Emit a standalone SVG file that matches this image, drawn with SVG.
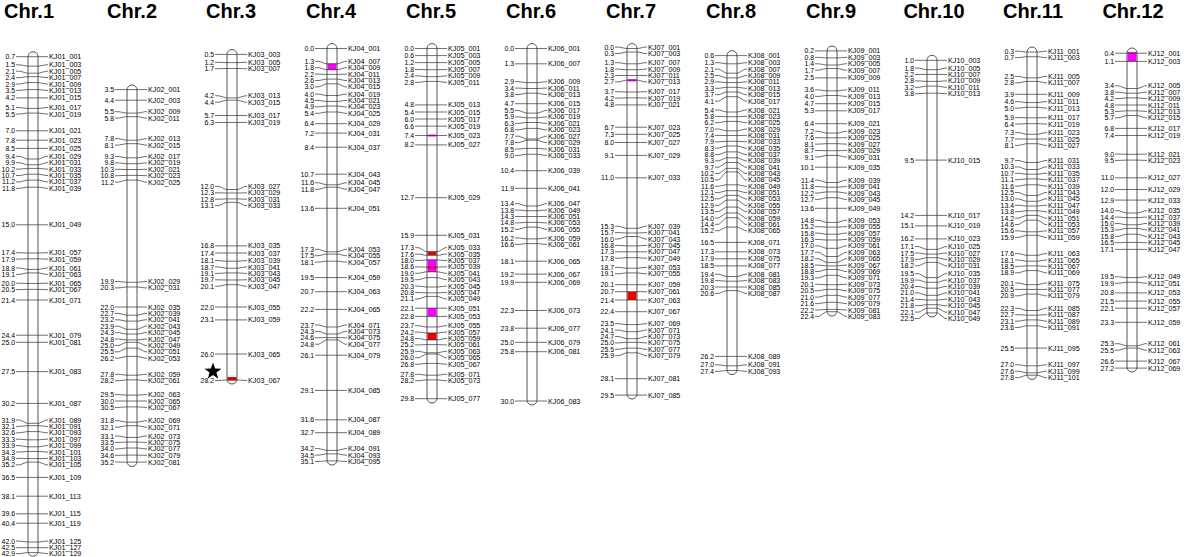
<svg xmlns="http://www.w3.org/2000/svg" width="1188" height="557" viewBox="0 0 1188 557">
<style>
.t{font:bold 20px "Liberation Sans",Arial,sans-serif;text-anchor:middle;fill:#000}
.n{font:6.9px "Liberation Sans",Arial,sans-serif;text-anchor:end;dominant-baseline:central;fill:#000}
.m{font:7.2px "Liberation Sans",Arial,sans-serif;dominant-baseline:central;fill:#000}
.body{fill:#fff;stroke:#555;stroke-width:1}
.cn path{fill:none;stroke:#333;stroke-width:0.7}
.mg{fill:#f0f}
.rd{fill:#e00}
</style>
<rect width="1188" height="557" fill="#fff"/>
<g id="titles">
<text class="t" x="29" y="18">Chr.1</text>
<text class="t" x="132" y="18">Chr.2</text>
<text class="t" x="231" y="18">Chr.3</text>
<text class="t" x="331" y="18">Chr.4</text>
<text class="t" x="431" y="18">Chr.5</text>
<text class="t" x="531" y="18">Chr.6</text>
<text class="t" x="631" y="18">Chr.7</text>
<text class="t" x="731" y="18">Chr.8</text>
<text class="t" x="831" y="18">Chr.9</text>
<text class="t" x="934" y="18">Chr.10</text>
<text class="t" x="1033" y="18">Chr.11</text>
<text class="t" x="1133" y="18">Chr.12</text>
</g>

<g id="chr1" transform="translate(33 0)">
<rect class="body" x="-5" y="51.7" width="10" height="504.5" rx="5"/>
<text class="n" x="-18" y="56.7">0.7</text><text class="m" x="16" y="56.7">KJ01_001</text>
<text class="n" x="-18" y="64.8">1.5</text><text class="m" x="16" y="64.8">KJ01_003</text>
<text class="n" x="-18" y="71.2">2.1</text><text class="m" x="16" y="71.2">KJ01_005</text>
<text class="n" x="-18" y="77.6">2.4</text><text class="m" x="16" y="77.6">KJ01_007</text>
<text class="n" x="-18" y="84">2.9</text><text class="m" x="16" y="84">KJ01_009</text>
<text class="n" x="-18" y="90.4">3.5</text><text class="m" x="16" y="90.4">KJ01_013</text>
<text class="n" x="-18" y="97.9">4.2</text><text class="m" x="16" y="97.9">KJ01_015</text>
<text class="n" x="-18" y="107.6">5.1</text><text class="m" x="16" y="107.6">KJ01_017</text>
<text class="n" x="-18" y="114">5.5</text><text class="m" x="16" y="114">KJ01_019</text>
<text class="n" x="-18" y="130.8">7.0</text><text class="m" x="16" y="130.8">KJ01_021</text>
<text class="n" x="-18" y="140.2">7.8</text><text class="m" x="16" y="140.2">KJ01_023</text>
<text class="n" x="-18" y="148.4">8.5</text><text class="m" x="16" y="148.4">KJ01_025</text>
<text class="n" x="-18" y="156.3">9.4</text><text class="m" x="16" y="156.3">KJ01_029</text>
<text class="n" x="-18" y="162.7">9.9</text><text class="m" x="16" y="162.7">KJ01_031</text>
<text class="n" x="-18" y="169.1">10.2</text><text class="m" x="16" y="169.1">KJ01_033</text>
<text class="n" x="-18" y="175.5">10.7</text><text class="m" x="16" y="175.5">KJ01_035</text>
<text class="n" x="-18" y="181.9">11.2</text><text class="m" x="16" y="181.9">KJ01_037</text>
<text class="n" x="-18" y="188.3">11.8</text><text class="m" x="16" y="188.3">KJ01_039</text>
<text class="n" x="-18" y="224.8">15.0</text><text class="m" x="16" y="224.8">KJ01_049</text>
<text class="n" x="-18" y="252.7">17.4</text><text class="m" x="16" y="252.7">KJ01_057</text>
<text class="n" x="-18" y="259.1">17.9</text><text class="m" x="16" y="259.1">KJ01_059</text>
<text class="n" x="-18" y="268">18.8</text><text class="m" x="16" y="268">KJ01_061</text>
<text class="n" x="-18" y="274.4">19.1</text><text class="m" x="16" y="274.4">KJ01_063</text>
<text class="n" x="-18" y="283.2">20.0</text><text class="m" x="16" y="283.2">KJ01_065</text>
<text class="n" x="-18" y="289.6">20.5</text><text class="m" x="16" y="289.6">KJ01_067</text>
<text class="n" x="-18" y="300">21.4</text><text class="m" x="16" y="300">KJ01_071</text>
<text class="n" x="-18" y="335.2">24.4</text><text class="m" x="16" y="335.2">KJ01_079</text>
<text class="n" x="-18" y="342.3">25.0</text><text class="m" x="16" y="342.3">KJ01_081</text>
<text class="n" x="-18" y="371.6">27.5</text><text class="m" x="16" y="371.6">KJ01_083</text>
<text class="n" x="-18" y="403.4">30.2</text><text class="m" x="16" y="403.4">KJ01_087</text>
<text class="n" x="-18" y="420">31.9</text><text class="m" x="16" y="420">KJ01_089</text>
<text class="n" x="-18" y="426.4">32.1</text><text class="m" x="16" y="426.4">KJ01_091</text>
<text class="n" x="-18" y="432.8">32.6</text><text class="m" x="16" y="432.8">KJ01_093</text>
<text class="n" x="-18" y="439.2">33.3</text><text class="m" x="16" y="439.2">KJ01_097</text>
<text class="n" x="-18" y="445.6">33.9</text><text class="m" x="16" y="445.6">KJ01_099</text>
<text class="n" x="-18" y="452">34.3</text><text class="m" x="16" y="452">KJ01_101</text>
<text class="n" x="-18" y="458.4">34.9</text><text class="m" x="16" y="458.4">KJ01_103</text>
<text class="n" x="-18" y="464.8">35.2</text><text class="m" x="16" y="464.8">KJ01_105</text>
<text class="n" x="-18" y="477.4">36.5</text><text class="m" x="16" y="477.4">KJ01_109</text>
<text class="n" x="-18" y="496.2">38.1</text><text class="m" x="16" y="496.2">KJ01_113</text>
<text class="n" x="-18" y="513.8">39.6</text><text class="m" x="16" y="513.8">KJ01_115</text>
<text class="n" x="-18" y="523.2">40.4</text><text class="m" x="16" y="523.2">KJ01_119</text>
<text class="n" x="-18" y="541.1">42.0</text><text class="m" x="16" y="541.1">KJ01_125</text>
<text class="n" x="-18" y="547.7">42.5</text><text class="m" x="16" y="547.7">KJ01_127</text>
<text class="n" x="-18" y="553.6">42.9</text><text class="m" x="16" y="553.6">KJ01_129</text>
</g>

<g id="chr2" transform="translate(132 0)">
<rect class="body" x="-5" y="85" width="10" height="381.5" rx="5"/>
<text class="n" x="-18" y="89.6">3.5</text><text class="m" x="16" y="89.6">KJ02_001</text>
<text class="n" x="-18" y="100.2">4.4</text><text class="m" x="16" y="100.2">KJ02_003</text>
<text class="n" x="-18" y="111.7">5.5</text><text class="m" x="16" y="111.7">KJ02_009</text>
<text class="n" x="-18" y="118.1">5.8</text><text class="m" x="16" y="118.1">KJ02_011</text>
<text class="n" x="-18" y="138.7">7.8</text><text class="m" x="16" y="138.7">KJ02_013</text>
<text class="n" x="-18" y="145.1">8.1</text><text class="m" x="16" y="145.1">KJ02_015</text>
<text class="n" x="-18" y="156.5">9.3</text><text class="m" x="16" y="156.5">KJ02_017</text>
<text class="n" x="-18" y="162.9">9.8</text><text class="m" x="16" y="162.9">KJ02_019</text>
<text class="n" x="-18" y="169.3">10.3</text><text class="m" x="16" y="169.3">KJ02_021</text>
<text class="n" x="-18" y="175.7">10.8</text><text class="m" x="16" y="175.7">KJ02_023</text>
<text class="n" x="-18" y="182.1">11.2</text><text class="m" x="16" y="182.1">KJ02_025</text>
<text class="n" x="-18" y="281.5">19.9</text><text class="m" x="16" y="281.5">KJ02_029</text>
<text class="n" x="-18" y="287.9">20.3</text><text class="m" x="16" y="287.9">KJ02_031</text>
<text class="n" x="-18" y="307">22.0</text><text class="m" x="16" y="307">KJ02_035</text>
<text class="n" x="-18" y="313.4">22.7</text><text class="m" x="16" y="313.4">KJ02_039</text>
<text class="n" x="-18" y="319.8">23.2</text><text class="m" x="16" y="319.8">KJ02_041</text>
<text class="n" x="-18" y="326.2">23.9</text><text class="m" x="16" y="326.2">KJ02_043</text>
<text class="n" x="-18" y="332.6">24.3</text><text class="m" x="16" y="332.6">KJ02_045</text>
<text class="n" x="-18" y="339">24.8</text><text class="m" x="16" y="339">KJ02_047</text>
<text class="n" x="-18" y="345.4">25.0</text><text class="m" x="16" y="345.4">KJ02_049</text>
<text class="n" x="-18" y="351.8">25.5</text><text class="m" x="16" y="351.8">KJ02_051</text>
<text class="n" x="-18" y="358.2">26.2</text><text class="m" x="16" y="358.2">KJ02_053</text>
<text class="n" x="-18" y="374.3">27.8</text><text class="m" x="16" y="374.3">KJ02_059</text>
<text class="n" x="-18" y="380.7">28.2</text><text class="m" x="16" y="380.7">KJ02_061</text>
<text class="n" x="-18" y="394.6">29.5</text><text class="m" x="16" y="394.6">KJ02_063</text>
<text class="n" x="-18" y="401">30.0</text><text class="m" x="16" y="401">KJ02_065</text>
<text class="n" x="-18" y="407.4">30.5</text><text class="m" x="16" y="407.4">KJ02_067</text>
<text class="n" x="-18" y="420.7">31.8</text><text class="m" x="16" y="420.7">KJ02_069</text>
<text class="n" x="-18" y="427.1">32.1</text><text class="m" x="16" y="427.1">KJ02_071</text>
<text class="n" x="-18" y="436">33.1</text><text class="m" x="16" y="436">KJ02_073</text>
<text class="n" x="-18" y="442.4">33.5</text><text class="m" x="16" y="442.4">KJ02_075</text>
<text class="n" x="-18" y="448.9">34.0</text><text class="m" x="16" y="448.9">KJ02_077</text>
<text class="n" x="-18" y="455.3">34.6</text><text class="m" x="16" y="455.3">KJ02_079</text>
<text class="n" x="-18" y="462.1">35.2</text><text class="m" x="16" y="462.1">KJ02_081</text>
</g>

<g id="chr3" transform="translate(232 0)">
<rect class="body" x="-5" y="49.5" width="10" height="334.5" rx="5"/>
<rect class="rd" x="-4.5" y="377" width="9" height="3.5"/>
<polygon points="-19,362.5 -16.88,368.59 -10.44,368.72 -15.58,372.61 -13.71,378.78 -19,375.1 -24.29,378.78 -22.42,372.61 -27.56,368.72 -21.12,368.59" fill="#000"/>
<text class="n" x="-18" y="54.4">0.5</text><text class="m" x="16" y="54.4">KJ03_003</text>
<text class="n" x="-18" y="62.3">1.2</text><text class="m" x="16" y="62.3">KJ03_005</text>
<text class="n" x="-18" y="68.7">1.7</text><text class="m" x="16" y="68.7">KJ03_007</text>
<text class="n" x="-18" y="95.8">4.2</text><text class="m" x="16" y="95.8">KJ03_013</text>
<text class="n" x="-18" y="102.2">4.4</text><text class="m" x="16" y="102.2">KJ03_015</text>
<text class="n" x="-18" y="115.5">5.7</text><text class="m" x="16" y="115.5">KJ03_017</text>
<text class="n" x="-18" y="122.5">6.3</text><text class="m" x="16" y="122.5">KJ03_019</text>
<text class="n" x="-18" y="186.4">12.0</text><text class="m" x="16" y="186.4">KJ03_027</text>
<text class="n" x="-18" y="192.8">12.3</text><text class="m" x="16" y="192.8">KJ03_029</text>
<text class="n" x="-18" y="199.2">12.8</text><text class="m" x="16" y="199.2">KJ03_031</text>
<text class="n" x="-18" y="205.6">13.1</text><text class="m" x="16" y="205.6">KJ03_033</text>
<text class="n" x="-18" y="245.9">16.8</text><text class="m" x="16" y="245.9">KJ03_035</text>
<text class="n" x="-18" y="253">17.4</text><text class="m" x="16" y="253">KJ03_037</text>
<text class="n" x="-18" y="260.6">18.1</text><text class="m" x="16" y="260.6">KJ03_039</text>
<text class="n" x="-18" y="267">18.7</text><text class="m" x="16" y="267">KJ03_041</text>
<text class="n" x="-18" y="273.4">19.1</text><text class="m" x="16" y="273.4">KJ03_043</text>
<text class="n" x="-18" y="279.8">19.7</text><text class="m" x="16" y="279.8">KJ03_045</text>
<text class="n" x="-18" y="286.2">20.1</text><text class="m" x="16" y="286.2">KJ03_047</text>
<text class="n" x="-18" y="307">22.0</text><text class="m" x="16" y="307">KJ03_055</text>
<text class="n" x="-18" y="319.9">23.1</text><text class="m" x="16" y="319.9">KJ03_059</text>
<text class="n" x="-18" y="354">26.0</text><text class="m" x="16" y="354">KJ03_065</text>
<text class="n" x="-18" y="380.5">28.2</text><text class="m" x="16" y="380.5">KJ03_067</text>
</g>

<g id="chr4" transform="translate(332 0)">
<rect class="body" x="-5" y="43.5" width="10" height="421.5" rx="5"/>
<rect class="mg" x="-4.5" y="63.5" width="9" height="6.5"/>
<text class="n" x="-18" y="48.5">0.0</text><text class="m" x="16" y="48.5">KJ04_001</text>
<text class="n" x="-18" y="61.3">1.3</text><text class="m" x="16" y="61.3">KJ04_007</text>
<text class="n" x="-18" y="67.7">1.8</text><text class="m" x="16" y="67.7">KJ04_009</text>
<text class="n" x="-18" y="74.1">2.2</text><text class="m" x="16" y="74.1">KJ04_011</text>
<text class="n" x="-18" y="80.5">2.6</text><text class="m" x="16" y="80.5">KJ04_013</text>
<text class="n" x="-18" y="86.9">3.0</text><text class="m" x="16" y="86.9">KJ04_015</text>
<text class="n" x="-18" y="94.1">4.0</text><text class="m" x="16" y="94.1">KJ04_019</text>
<text class="n" x="-18" y="100.5">4.5</text><text class="m" x="16" y="100.5">KJ04_021</text>
<text class="n" x="-18" y="106.9">4.9</text><text class="m" x="16" y="106.9">KJ04_023</text>
<text class="n" x="-18" y="113.3">5.4</text><text class="m" x="16" y="113.3">KJ04_025</text>
<text class="n" x="-18" y="123.7">6.4</text><text class="m" x="16" y="123.7">KJ04_029</text>
<text class="n" x="-18" y="133.1">7.2</text><text class="m" x="16" y="133.1">KJ04_031</text>
<text class="n" x="-18" y="147.2">8.4</text><text class="m" x="16" y="147.2">KJ04_037</text>
<text class="n" x="-18" y="174.2">10.7</text><text class="m" x="16" y="174.2">KJ04_043</text>
<text class="n" x="-18" y="182.8">11.6</text><text class="m" x="16" y="182.8">KJ04_045</text>
<text class="n" x="-18" y="189.2">11.8</text><text class="m" x="16" y="189.2">KJ04_047</text>
<text class="n" x="-18" y="208.3">13.6</text><text class="m" x="16" y="208.3">KJ04_051</text>
<text class="n" x="-18" y="249.3">17.3</text><text class="m" x="16" y="249.3">KJ04_053</text>
<text class="n" x="-18" y="255.7">17.5</text><text class="m" x="16" y="255.7">KJ04_055</text>
<text class="n" x="-18" y="262.1">18.1</text><text class="m" x="16" y="262.1">KJ04_057</text>
<text class="n" x="-18" y="277.6">19.5</text><text class="m" x="16" y="277.6">KJ04_059</text>
<text class="n" x="-18" y="291.7">20.7</text><text class="m" x="16" y="291.7">KJ04_063</text>
<text class="n" x="-18" y="309.4">22.2</text><text class="m" x="16" y="309.4">KJ04_065</text>
<text class="n" x="-18" y="325">23.7</text><text class="m" x="16" y="325">KJ04_071</text>
<text class="n" x="-18" y="331.4">24.3</text><text class="m" x="16" y="331.4">KJ04_073</text>
<text class="n" x="-18" y="337.8">24.6</text><text class="m" x="16" y="337.8">KJ04_075</text>
<text class="n" x="-18" y="344.2">24.8</text><text class="m" x="16" y="344.2">KJ04_077</text>
<text class="n" x="-18" y="355.2">26.1</text><text class="m" x="16" y="355.2">KJ04_079</text>
<text class="n" x="-18" y="390.4">29.1</text><text class="m" x="16" y="390.4">KJ04_085</text>
<text class="n" x="-18" y="419.8">31.6</text><text class="m" x="16" y="419.8">KJ04_087</text>
<text class="n" x="-18" y="432.7">32.7</text><text class="m" x="16" y="432.7">KJ04_089</text>
<text class="n" x="-18" y="448.6">34.2</text><text class="m" x="16" y="448.6">KJ04_091</text>
<text class="n" x="-18" y="455.1">34.5</text><text class="m" x="16" y="455.1">KJ04_093</text>
<text class="n" x="-18" y="461.5">35.1</text><text class="m" x="16" y="461.5">KJ04_095</text>
</g>

<g id="chr5" transform="translate(432 0)">
<rect class="body" x="-5" y="43.5" width="10" height="359.5" rx="5"/>
<rect class="mg" x="-4.5" y="134.5" width="9" height="2"/>
<rect class="rd" x="-4.5" y="251.5" width="9" height="3.8"/>
<rect class="mg" x="-4.5" y="259.5" width="9" height="12.5"/>
<rect class="rd" x="-4.5" y="266.5" width="9" height="2"/>
<rect class="mg" x="-4.5" y="308" width="9" height="8.5"/>
<rect class="rd" x="-4.5" y="333" width="9" height="7"/>
<text class="n" x="-18" y="48.5">0.0</text><text class="m" x="16" y="48.5">KJ05_001</text>
<text class="n" x="-18" y="55.6">0.6</text><text class="m" x="16" y="55.6">KJ05_003</text>
<text class="n" x="-18" y="62.6">1.2</text><text class="m" x="16" y="62.6">KJ05_005</text>
<text class="n" x="-18" y="69.5">1.8</text><text class="m" x="16" y="69.5">KJ05_007</text>
<text class="n" x="-18" y="75.9">2.4</text><text class="m" x="16" y="75.9">KJ05_009</text>
<text class="n" x="-18" y="82.3">2.8</text><text class="m" x="16" y="82.3">KJ05_011</text>
<text class="n" x="-18" y="104.9">4.8</text><text class="m" x="16" y="104.9">KJ05_013</text>
<text class="n" x="-18" y="112">5.4</text><text class="m" x="16" y="112">KJ05_015</text>
<text class="n" x="-18" y="119">6.0</text><text class="m" x="16" y="119">KJ05_017</text>
<text class="n" x="-18" y="126.1">6.6</text><text class="m" x="16" y="126.1">KJ05_019</text>
<text class="n" x="-18" y="135.5">7.4</text><text class="m" x="16" y="135.5">KJ05_023</text>
<text class="n" x="-18" y="144.9">8.2</text><text class="m" x="16" y="144.9">KJ05_027</text>
<text class="n" x="-18" y="197.7">12.7</text><text class="m" x="16" y="197.7">KJ05_029</text>
<text class="n" x="-18" y="235.3">15.9</text><text class="m" x="16" y="235.3">KJ05_031</text>
<text class="n" x="-18" y="247.7">17.3</text><text class="m" x="16" y="247.7">KJ05_033</text>
<text class="n" x="-18" y="254.1">17.6</text><text class="m" x="16" y="254.1">KJ05_035</text>
<text class="n" x="-18" y="260.5">18.0</text><text class="m" x="16" y="260.5">KJ05_037</text>
<text class="n" x="-18" y="266.9">18.6</text><text class="m" x="16" y="266.9">KJ05_039</text>
<text class="n" x="-18" y="273.3">19.0</text><text class="m" x="16" y="273.3">KJ05_041</text>
<text class="n" x="-18" y="279.7">19.5</text><text class="m" x="16" y="279.7">KJ05_043</text>
<text class="n" x="-18" y="286.1">20.3</text><text class="m" x="16" y="286.1">KJ05_045</text>
<text class="n" x="-18" y="292.5">20.8</text><text class="m" x="16" y="292.5">KJ05_047</text>
<text class="n" x="-18" y="298.9">21.1</text><text class="m" x="16" y="298.9">KJ05_049</text>
<text class="n" x="-18" y="308.2">22.1</text><text class="m" x="16" y="308.2">KJ05_051</text>
<text class="n" x="-18" y="316.4">22.8</text><text class="m" x="16" y="316.4">KJ05_053</text>
<text class="n" x="-18" y="325.7">23.7</text><text class="m" x="16" y="325.7">KJ05_055</text>
<text class="n" x="-18" y="332.1">24.2</text><text class="m" x="16" y="332.1">KJ05_057</text>
<text class="n" x="-18" y="338.5">24.8</text><text class="m" x="16" y="338.5">KJ05_059</text>
<text class="n" x="-18" y="344.9">25.2</text><text class="m" x="16" y="344.9">KJ05_061</text>
<text class="n" x="-18" y="351.3">25.9</text><text class="m" x="16" y="351.3">KJ05_063</text>
<text class="n" x="-18" y="357.7">26.0</text><text class="m" x="16" y="357.7">KJ05_065</text>
<text class="n" x="-18" y="364.2">26.8</text><text class="m" x="16" y="364.2">KJ05_067</text>
<text class="n" x="-18" y="374.3">27.8</text><text class="m" x="16" y="374.3">KJ05_071</text>
<text class="n" x="-18" y="380.7">28.2</text><text class="m" x="16" y="380.7">KJ05_073</text>
<text class="n" x="-18" y="398.7">29.8</text><text class="m" x="16" y="398.7">KJ05_077</text>
</g>

<g id="chr6" transform="translate(532 0)">
<rect class="body" x="-5" y="43.5" width="10" height="361.5" rx="5"/>
<text class="n" x="-18" y="48.5">0.0</text><text class="m" x="16" y="48.5">KJ06_001</text>
<text class="n" x="-18" y="63.8">1.3</text><text class="m" x="16" y="63.8">KJ06_007</text>
<text class="n" x="-18" y="81.7">2.9</text><text class="m" x="16" y="81.7">KJ06_009</text>
<text class="n" x="-18" y="88.1">3.4</text><text class="m" x="16" y="88.1">KJ06_011</text>
<text class="n" x="-18" y="94.5">3.8</text><text class="m" x="16" y="94.5">KJ06_013</text>
<text class="n" x="-18" y="103.7">4.7</text><text class="m" x="16" y="103.7">KJ06_015</text>
<text class="n" x="-18" y="110.5">5.5</text><text class="m" x="16" y="110.5">KJ06_017</text>
<text class="n" x="-18" y="116.9">5.9</text><text class="m" x="16" y="116.9">KJ06_019</text>
<text class="n" x="-18" y="123.3">6.3</text><text class="m" x="16" y="123.3">KJ06_021</text>
<text class="n" x="-18" y="129.8">6.8</text><text class="m" x="16" y="129.8">KJ06_023</text>
<text class="n" x="-18" y="136.2">7.7</text><text class="m" x="16" y="136.2">KJ06_027</text>
<text class="n" x="-18" y="142.6">7.8</text><text class="m" x="16" y="142.6">KJ06_029</text>
<text class="n" x="-18" y="149">8.5</text><text class="m" x="16" y="149">KJ06_031</text>
<text class="n" x="-18" y="155.4">9.0</text><text class="m" x="16" y="155.4">KJ06_033</text>
<text class="n" x="-18" y="170.7">10.4</text><text class="m" x="16" y="170.7">KJ06_039</text>
<text class="n" x="-18" y="188.3">11.9</text><text class="m" x="16" y="188.3">KJ06_041</text>
<text class="n" x="-18" y="203.7">13.4</text><text class="m" x="16" y="203.7">KJ06_047</text>
<text class="n" x="-18" y="210.1">13.8</text><text class="m" x="16" y="210.1">KJ06_049</text>
<text class="n" x="-18" y="216.5">14.3</text><text class="m" x="16" y="216.5">KJ06_051</text>
<text class="n" x="-18" y="222.9">14.8</text><text class="m" x="16" y="222.9">KJ06_053</text>
<text class="n" x="-18" y="229.3">15.2</text><text class="m" x="16" y="229.3">KJ06_055</text>
<text class="n" x="-18" y="238">16.2</text><text class="m" x="16" y="238">KJ06_059</text>
<text class="n" x="-18" y="244.4">16.6</text><text class="m" x="16" y="244.4">KJ06_061</text>
<text class="n" x="-18" y="261.2">18.1</text><text class="m" x="16" y="261.2">KJ06_065</text>
<text class="n" x="-18" y="274.1">19.2</text><text class="m" x="16" y="274.1">KJ06_067</text>
<text class="n" x="-18" y="282.3">19.9</text><text class="m" x="16" y="282.3">KJ06_069</text>
<text class="n" x="-18" y="310.5">22.3</text><text class="m" x="16" y="310.5">KJ06_073</text>
<text class="n" x="-18" y="328.2">23.8</text><text class="m" x="16" y="328.2">KJ06_077</text>
<text class="n" x="-18" y="342.3">25.0</text><text class="m" x="16" y="342.3">KJ06_079</text>
<text class="n" x="-18" y="351.7">25.8</text><text class="m" x="16" y="351.7">KJ06_081</text>
<text class="n" x="-18" y="401">30.0</text><text class="m" x="16" y="401">KJ06_083</text>
</g>

<g id="chr7" transform="translate(632 0)">
<rect class="body" x="-5" y="43.5" width="10" height="355.5" rx="5"/>
<rect class="mg" x="-4.5" y="79.2" width="9" height="2.2"/>
<rect class="rd" x="-4.5" y="291.7" width="9" height="8.3"/>
<text class="n" x="-18" y="47.1">0.0</text><text class="m" x="16" y="47.1">KJ07_001</text>
<text class="n" x="-18" y="53.5">0.3</text><text class="m" x="16" y="53.5">KJ07_003</text>
<text class="n" x="-18" y="62.7">1.3</text><text class="m" x="16" y="62.7">KJ07_007</text>
<text class="n" x="-18" y="69.1">1.8</text><text class="m" x="16" y="69.1">KJ07_009</text>
<text class="n" x="-18" y="75.5">2.3</text><text class="m" x="16" y="75.5">KJ07_011</text>
<text class="n" x="-18" y="81.9">2.7</text><text class="m" x="16" y="81.9">KJ07_013</text>
<text class="n" x="-18" y="91.7">3.7</text><text class="m" x="16" y="91.7">KJ07_017</text>
<text class="n" x="-18" y="98.1">4.2</text><text class="m" x="16" y="98.1">KJ07_019</text>
<text class="n" x="-18" y="104.9">4.8</text><text class="m" x="16" y="104.9">KJ07_021</text>
<text class="n" x="-18" y="127.2">6.7</text><text class="m" x="16" y="127.2">KJ07_023</text>
<text class="n" x="-18" y="134.3">7.3</text><text class="m" x="16" y="134.3">KJ07_025</text>
<text class="n" x="-18" y="142.5">8.0</text><text class="m" x="16" y="142.5">KJ07_027</text>
<text class="n" x="-18" y="155.4">9.1</text><text class="m" x="16" y="155.4">KJ07_029</text>
<text class="n" x="-18" y="177.8">11.0</text><text class="m" x="16" y="177.8">KJ07_033</text>
<text class="n" x="-18" y="226.2">15.3</text><text class="m" x="16" y="226.2">KJ07_039</text>
<text class="n" x="-18" y="232.6">15.7</text><text class="m" x="16" y="232.6">KJ07_041</text>
<text class="n" x="-18" y="239">16.0</text><text class="m" x="16" y="239">KJ07_043</text>
<text class="n" x="-18" y="245.4">16.8</text><text class="m" x="16" y="245.4">KJ07_045</text>
<text class="n" x="-18" y="251.8">17.3</text><text class="m" x="16" y="251.8">KJ07_047</text>
<text class="n" x="-18" y="258.2">17.8</text><text class="m" x="16" y="258.2">KJ07_049</text>
<text class="n" x="-18" y="267.4">18.7</text><text class="m" x="16" y="267.4">KJ07_053</text>
<text class="n" x="-18" y="273.8">19.1</text><text class="m" x="16" y="273.8">KJ07_055</text>
<text class="n" x="-18" y="284.7">20.1</text><text class="m" x="16" y="284.7">KJ07_059</text>
<text class="n" x="-18" y="291.7">20.7</text><text class="m" x="16" y="291.7">KJ07_061</text>
<text class="n" x="-18" y="300">21.4</text><text class="m" x="16" y="300">KJ07_063</text>
<text class="n" x="-18" y="311.7">22.4</text><text class="m" x="16" y="311.7">KJ07_067</text>
<text class="n" x="-18" y="323.7">23.5</text><text class="m" x="16" y="323.7">KJ07_069</text>
<text class="n" x="-18" y="330.1">24.1</text><text class="m" x="16" y="330.1">KJ07_071</text>
<text class="n" x="-18" y="336.5">24.7</text><text class="m" x="16" y="336.5">KJ07_073</text>
<text class="n" x="-18" y="342.9">25.0</text><text class="m" x="16" y="342.9">KJ07_075</text>
<text class="n" x="-18" y="349.3">25.5</text><text class="m" x="16" y="349.3">KJ07_077</text>
<text class="n" x="-18" y="355.7">25.9</text><text class="m" x="16" y="355.7">KJ07_079</text>
<text class="n" x="-18" y="378.7">28.1</text><text class="m" x="16" y="378.7">KJ07_081</text>
<text class="n" x="-18" y="395.1">29.5</text><text class="m" x="16" y="395.1">KJ07_085</text>
</g>

<g id="chr8" transform="translate(732 0)">
<rect class="body" x="-5" y="50.6" width="10" height="324" rx="5"/>
<text class="n" x="-18" y="55.6">0.6</text><text class="m" x="16" y="55.6">KJ08_001</text>
<text class="n" x="-18" y="62.7">1.3</text><text class="m" x="16" y="62.7">KJ08_003</text>
<text class="n" x="-18" y="69.1">2.1</text><text class="m" x="16" y="69.1">KJ08_007</text>
<text class="n" x="-18" y="75.5">2.5</text><text class="m" x="16" y="75.5">KJ08_009</text>
<text class="n" x="-18" y="81.9">2.9</text><text class="m" x="16" y="81.9">KJ08_011</text>
<text class="n" x="-18" y="88.3">3.3</text><text class="m" x="16" y="88.3">KJ08_013</text>
<text class="n" x="-18" y="94.7">3.7</text><text class="m" x="16" y="94.7">KJ08_015</text>
<text class="n" x="-18" y="101.1">4.1</text><text class="m" x="16" y="101.1">KJ08_017</text>
<text class="n" x="-18" y="110">5.4</text><text class="m" x="16" y="110">KJ08_021</text>
<text class="n" x="-18" y="116.4">5.8</text><text class="m" x="16" y="116.4">KJ08_023</text>
<text class="n" x="-18" y="122.7">6.2</text><text class="m" x="16" y="122.7">KJ08_025</text>
<text class="n" x="-18" y="129.1">7.0</text><text class="m" x="16" y="129.1">KJ08_029</text>
<text class="n" x="-18" y="135.4">7.4</text><text class="m" x="16" y="135.4">KJ08_031</text>
<text class="n" x="-18" y="141.8">7.9</text><text class="m" x="16" y="141.8">KJ08_033</text>
<text class="n" x="-18" y="148.1">8.3</text><text class="m" x="16" y="148.1">KJ08_035</text>
<text class="n" x="-18" y="154.5">8.8</text><text class="m" x="16" y="154.5">KJ08_037</text>
<text class="n" x="-18" y="160.8">9.3</text><text class="m" x="16" y="160.8">KJ08_039</text>
<text class="n" x="-18" y="167.2">9.7</text><text class="m" x="16" y="167.2">KJ08_041</text>
<text class="n" x="-18" y="173.5">10.2</text><text class="m" x="16" y="173.5">KJ08_043</text>
<text class="n" x="-18" y="179.9">10.5</text><text class="m" x="16" y="179.9">KJ08_045</text>
<text class="n" x="-18" y="186.2">11.6</text><text class="m" x="16" y="186.2">KJ08_049</text>
<text class="n" x="-18" y="192.6">12.1</text><text class="m" x="16" y="192.6">KJ08_051</text>
<text class="n" x="-18" y="198.9">12.5</text><text class="m" x="16" y="198.9">KJ08_053</text>
<text class="n" x="-18" y="205.3">12.9</text><text class="m" x="16" y="205.3">KJ08_055</text>
<text class="n" x="-18" y="211.6">13.5</text><text class="m" x="16" y="211.6">KJ08_057</text>
<text class="n" x="-18" y="218">14.0</text><text class="m" x="16" y="218">KJ08_059</text>
<text class="n" x="-18" y="224.3">14.4</text><text class="m" x="16" y="224.3">KJ08_061</text>
<text class="n" x="-18" y="230.7">15.2</text><text class="m" x="16" y="230.7">KJ08_065</text>
<text class="n" x="-18" y="242.4">16.5</text><text class="m" x="16" y="242.4">KJ08_071</text>
<text class="n" x="-18" y="251.8">17.3</text><text class="m" x="16" y="251.8">KJ08_073</text>
<text class="n" x="-18" y="258.8">17.9</text><text class="m" x="16" y="258.8">KJ08_075</text>
<text class="n" x="-18" y="265.9">18.5</text><text class="m" x="16" y="265.9">KJ08_077</text>
<text class="n" x="-18" y="274.2">19.4</text><text class="m" x="16" y="274.2">KJ08_081</text>
<text class="n" x="-18" y="280.6">19.8</text><text class="m" x="16" y="280.6">KJ08_083</text>
<text class="n" x="-18" y="287">20.3</text><text class="m" x="16" y="287">KJ08_085</text>
<text class="n" x="-18" y="293.4">20.6</text><text class="m" x="16" y="293.4">KJ08_087</text>
<text class="n" x="-18" y="356.4">26.2</text><text class="m" x="16" y="356.4">KJ08_089</text>
<text class="n" x="-18" y="364.9">27.0</text><text class="m" x="16" y="364.9">KJ08_091</text>
<text class="n" x="-18" y="371.3">27.4</text><text class="m" x="16" y="371.3">KJ08_093</text>
</g>

<g id="chr9" transform="translate(832 0)">
<rect class="body" x="-5" y="46" width="10" height="270" rx="5"/>
<text class="n" x="-18" y="50.9">0.2</text><text class="m" x="16" y="50.9">KJ09_001</text>
<text class="n" x="-18" y="57.4">0.8</text><text class="m" x="16" y="57.4">KJ09_003</text>
<text class="n" x="-18" y="63.8">1.4</text><text class="m" x="16" y="63.8">KJ09_005</text>
<text class="n" x="-18" y="70.2">1.7</text><text class="m" x="16" y="70.2">KJ09_007</text>
<text class="n" x="-18" y="77.9">2.5</text><text class="m" x="16" y="77.9">KJ09_009</text>
<text class="n" x="-18" y="89.9">3.6</text><text class="m" x="16" y="89.9">KJ09_011</text>
<text class="n" x="-18" y="96.4">4.0</text><text class="m" x="16" y="96.4">KJ09_013</text>
<text class="n" x="-18" y="103.7">4.7</text><text class="m" x="16" y="103.7">KJ09_015</text>
<text class="n" x="-18" y="110.8">5.3</text><text class="m" x="16" y="110.8">KJ09_017</text>
<text class="n" x="-18" y="123.7">6.4</text><text class="m" x="16" y="123.7">KJ09_021</text>
<text class="n" x="-18" y="131.3">7.2</text><text class="m" x="16" y="131.3">KJ09_023</text>
<text class="n" x="-18" y="137.7">7.6</text><text class="m" x="16" y="137.7">KJ09_025</text>
<text class="n" x="-18" y="144.1">8.1</text><text class="m" x="16" y="144.1">KJ09_027</text>
<text class="n" x="-18" y="150.5">8.7</text><text class="m" x="16" y="150.5">KJ09_029</text>
<text class="n" x="-18" y="157">9.1</text><text class="m" x="16" y="157">KJ09_031</text>
<text class="n" x="-18" y="167.2">10.1</text><text class="m" x="16" y="167.2">KJ09_035</text>
<text class="n" x="-18" y="180.2">11.4</text><text class="m" x="16" y="180.2">KJ09_039</text>
<text class="n" x="-18" y="186.6">11.8</text><text class="m" x="16" y="186.6">KJ09_041</text>
<text class="n" x="-18" y="193">12.2</text><text class="m" x="16" y="193">KJ09_043</text>
<text class="n" x="-18" y="199.4">12.7</text><text class="m" x="16" y="199.4">KJ09_045</text>
<text class="n" x="-18" y="208.3">13.6</text><text class="m" x="16" y="208.3">KJ09_049</text>
<text class="n" x="-18" y="220.3">14.8</text><text class="m" x="16" y="220.3">KJ09_053</text>
<text class="n" x="-18" y="226.7">15.2</text><text class="m" x="16" y="226.7">KJ09_055</text>
<text class="n" x="-18" y="233.1">15.8</text><text class="m" x="16" y="233.1">KJ09_057</text>
<text class="n" x="-18" y="239.5">16.3</text><text class="m" x="16" y="239.5">KJ09_059</text>
<text class="n" x="-18" y="245.9">17.0</text><text class="m" x="16" y="245.9">KJ09_061</text>
<text class="n" x="-18" y="252.3">17.7</text><text class="m" x="16" y="252.3">KJ09_063</text>
<text class="n" x="-18" y="258.7">18.2</text><text class="m" x="16" y="258.7">KJ09_065</text>
<text class="n" x="-18" y="265.1">18.5</text><text class="m" x="16" y="265.1">KJ09_067</text>
<text class="n" x="-18" y="271.5">18.8</text><text class="m" x="16" y="271.5">KJ09_069</text>
<text class="n" x="-18" y="277.9">19.3</text><text class="m" x="16" y="277.9">KJ09_071</text>
<text class="n" x="-18" y="284.3">20.1</text><text class="m" x="16" y="284.3">KJ09_073</text>
<text class="n" x="-18" y="290.7">20.5</text><text class="m" x="16" y="290.7">KJ09_075</text>
<text class="n" x="-18" y="297.1">21.0</text><text class="m" x="16" y="297.1">KJ09_077</text>
<text class="n" x="-18" y="303.6">21.6</text><text class="m" x="16" y="303.6">KJ09_079</text>
<text class="n" x="-18" y="310">22.2</text><text class="m" x="16" y="310">KJ09_081</text>
<text class="n" x="-18" y="316.4">22.4</text><text class="m" x="16" y="316.4">KJ09_083</text>
</g>

<g id="chr10" transform="translate(932 0)">
<rect class="body" x="-5" y="55.3" width="10" height="261.7" rx="5"/>
<text class="n" x="-18" y="60.3">1.0</text><text class="m" x="16" y="60.3">KJ10_003</text>
<text class="n" x="-18" y="68.1">1.8</text><text class="m" x="16" y="68.1">KJ10_005</text>
<text class="n" x="-18" y="74.5">2.2</text><text class="m" x="16" y="74.5">KJ10_007</text>
<text class="n" x="-18" y="80.9">2.8</text><text class="m" x="16" y="80.9">KJ10_009</text>
<text class="n" x="-18" y="87.3">3.2</text><text class="m" x="16" y="87.3">KJ10_011</text>
<text class="n" x="-18" y="93.7">3.8</text><text class="m" x="16" y="93.7">KJ10_013</text>
<text class="n" x="-18" y="160.1">9.5</text><text class="m" x="16" y="160.1">KJ10_015</text>
<text class="n" x="-18" y="215.4">14.2</text><text class="m" x="16" y="215.4">KJ10_017</text>
<text class="n" x="-18" y="225.9">15.1</text><text class="m" x="16" y="225.9">KJ10_019</text>
<text class="n" x="-18" y="238.9">16.2</text><text class="m" x="16" y="238.9">KJ10_023</text>
<text class="n" x="-18" y="246.6">17.1</text><text class="m" x="16" y="246.6">KJ10_025</text>
<text class="n" x="-18" y="253">17.5</text><text class="m" x="16" y="253">KJ10_027</text>
<text class="n" x="-18" y="259.4">17.9</text><text class="m" x="16" y="259.4">KJ10_029</text>
<text class="n" x="-18" y="265.8">18.2</text><text class="m" x="16" y="265.8">KJ10_031</text>
<text class="n" x="-18" y="273.7">19.5</text><text class="m" x="16" y="273.7">KJ10_035</text>
<text class="n" x="-18" y="280.1">19.9</text><text class="m" x="16" y="280.1">KJ10_037</text>
<text class="n" x="-18" y="286.5">20.4</text><text class="m" x="16" y="286.5">KJ10_039</text>
<text class="n" x="-18" y="292.9">21.0</text><text class="m" x="16" y="292.9">KJ10_041</text>
<text class="n" x="-18" y="299.3">21.4</text><text class="m" x="16" y="299.3">KJ10_043</text>
<text class="n" x="-18" y="305.7">21.8</text><text class="m" x="16" y="305.7">KJ10_045</text>
<text class="n" x="-18" y="312.1">22.1</text><text class="m" x="16" y="312.1">KJ10_047</text>
<text class="n" x="-18" y="318.5">22.5</text><text class="m" x="16" y="318.5">KJ10_049</text>
</g>

<g id="chr11" transform="translate(1032 0)">
<rect class="body" x="-5" y="47" width="10" height="332.5" rx="5"/>
<text class="n" x="-18" y="51.2">0.3</text><text class="m" x="16" y="51.2">KJ11_001</text>
<text class="n" x="-18" y="57.6">0.7</text><text class="m" x="16" y="57.6">KJ11_003</text>
<text class="n" x="-18" y="76.4">2.5</text><text class="m" x="16" y="76.4">KJ11_005</text>
<text class="n" x="-18" y="82.8">2.8</text><text class="m" x="16" y="82.8">KJ11_007</text>
<text class="n" x="-18" y="94.3">3.9</text><text class="m" x="16" y="94.3">KJ11_009</text>
<text class="n" x="-18" y="101.7">4.6</text><text class="m" x="16" y="101.7">KJ11_011</text>
<text class="n" x="-18" y="108.1">5.0</text><text class="m" x="16" y="108.1">KJ11_013</text>
<text class="n" x="-18" y="117.6">5.9</text><text class="m" x="16" y="117.6">KJ11_017</text>
<text class="n" x="-18" y="124">6.4</text><text class="m" x="16" y="124">KJ11_019</text>
<text class="n" x="-18" y="132.6">7.3</text><text class="m" x="16" y="132.6">KJ11_023</text>
<text class="n" x="-18" y="139">7.7</text><text class="m" x="16" y="139">KJ11_025</text>
<text class="n" x="-18" y="145.4">8.1</text><text class="m" x="16" y="145.4">KJ11_027</text>
<text class="n" x="-18" y="160.5">9.7</text><text class="m" x="16" y="160.5">KJ11_031</text>
<text class="n" x="-18" y="166.9">10.3</text><text class="m" x="16" y="166.9">KJ11_033</text>
<text class="n" x="-18" y="173.3">10.7</text><text class="m" x="16" y="173.3">KJ11_035</text>
<text class="n" x="-18" y="179.7">11.1</text><text class="m" x="16" y="179.7">KJ11_037</text>
<text class="n" x="-18" y="186.1">11.6</text><text class="m" x="16" y="186.1">KJ11_039</text>
<text class="n" x="-18" y="192.5">12.5</text><text class="m" x="16" y="192.5">KJ11_043</text>
<text class="n" x="-18" y="198.9">13.0</text><text class="m" x="16" y="198.9">KJ11_045</text>
<text class="n" x="-18" y="205.3">13.4</text><text class="m" x="16" y="205.3">KJ11_047</text>
<text class="n" x="-18" y="211.7">13.8</text><text class="m" x="16" y="211.7">KJ11_049</text>
<text class="n" x="-18" y="218.1">14.2</text><text class="m" x="16" y="218.1">KJ11_051</text>
<text class="n" x="-18" y="224.5">14.6</text><text class="m" x="16" y="224.5">KJ11_053</text>
<text class="n" x="-18" y="230.9">15.6</text><text class="m" x="16" y="230.9">KJ11_057</text>
<text class="n" x="-18" y="237.4">15.9</text><text class="m" x="16" y="237.4">KJ11_059</text>
<text class="n" x="-18" y="253.6">17.6</text><text class="m" x="16" y="253.6">KJ11_063</text>
<text class="n" x="-18" y="260">18.1</text><text class="m" x="16" y="260">KJ11_065</text>
<text class="n" x="-18" y="266.4">18.5</text><text class="m" x="16" y="266.4">KJ11_067</text>
<text class="n" x="-18" y="272.8">18.9</text><text class="m" x="16" y="272.8">KJ11_069</text>
<text class="n" x="-18" y="283">20.1</text><text class="m" x="16" y="283">KJ11_075</text>
<text class="n" x="-18" y="289.4">20.5</text><text class="m" x="16" y="289.4">KJ11_077</text>
<text class="n" x="-18" y="295.8">20.9</text><text class="m" x="16" y="295.8">KJ11_079</text>
<text class="n" x="-18" y="308.3">22.3</text><text class="m" x="16" y="308.3">KJ11_085</text>
<text class="n" x="-18" y="314.7">22.7</text><text class="m" x="16" y="314.7">KJ11_087</text>
<text class="n" x="-18" y="321.1">23.1</text><text class="m" x="16" y="321.1">KJ11_089</text>
<text class="n" x="-18" y="327.5">23.6</text><text class="m" x="16" y="327.5">KJ11_091</text>
<text class="n" x="-18" y="348.1">25.5</text><text class="m" x="16" y="348.1">KJ11_095</text>
<text class="n" x="-18" y="364.8">27.0</text><text class="m" x="16" y="364.8">KJ11_097</text>
<text class="n" x="-18" y="371.2">27.6</text><text class="m" x="16" y="371.2">KJ11_099</text>
<text class="n" x="-18" y="377.6">27.8</text><text class="m" x="16" y="377.6">KJ11_101</text>
</g>

<g id="chr12" transform="translate(1132 0)">
<rect class="body" x="-5" y="48" width="10" height="324" rx="5"/>
<rect class="mg" x="-4.5" y="52" width="9" height="9.5"/>
<text class="n" x="-18" y="53.2">0.4</text><text class="m" x="16" y="53.2">KJ12_001</text>
<text class="n" x="-18" y="61.4">1.1</text><text class="m" x="16" y="61.4">KJ12_003</text>
<text class="n" x="-18" y="85.8">3.4</text><text class="m" x="16" y="85.8">KJ12_005</text>
<text class="n" x="-18" y="92.2">3.8</text><text class="m" x="16" y="92.2">KJ12_007</text>
<text class="n" x="-18" y="98.6">4.2</text><text class="m" x="16" y="98.6">KJ12_009</text>
<text class="n" x="-18" y="105">4.8</text><text class="m" x="16" y="105">KJ12_011</text>
<text class="n" x="-18" y="111.4">5.3</text><text class="m" x="16" y="111.4">KJ12_013</text>
<text class="n" x="-18" y="117.8">5.7</text><text class="m" x="16" y="117.8">KJ12_015</text>
<text class="n" x="-18" y="128.4">6.8</text><text class="m" x="16" y="128.4">KJ12_017</text>
<text class="n" x="-18" y="135.5">7.4</text><text class="m" x="16" y="135.5">KJ12_019</text>
<text class="n" x="-18" y="154">9.0</text><text class="m" x="16" y="154">KJ12_021</text>
<text class="n" x="-18" y="160.4">9.5</text><text class="m" x="16" y="160.4">KJ12_023</text>
<text class="n" x="-18" y="177.8">11.0</text><text class="m" x="16" y="177.8">KJ12_027</text>
<text class="n" x="-18" y="189.5">12.0</text><text class="m" x="16" y="189.5">KJ12_029</text>
<text class="n" x="-18" y="200.1">12.9</text><text class="m" x="16" y="200.1">KJ12_033</text>
<text class="n" x="-18" y="210.7">14.0</text><text class="m" x="16" y="210.7">KJ12_035</text>
<text class="n" x="-18" y="217.1">14.4</text><text class="m" x="16" y="217.1">KJ12_037</text>
<text class="n" x="-18" y="223.5">15.0</text><text class="m" x="16" y="223.5">KJ12_039</text>
<text class="n" x="-18" y="229.9">15.3</text><text class="m" x="16" y="229.9">KJ12_041</text>
<text class="n" x="-18" y="236.3">15.8</text><text class="m" x="16" y="236.3">KJ12_043</text>
<text class="n" x="-18" y="242.7">16.5</text><text class="m" x="16" y="242.7">KJ12_045</text>
<text class="n" x="-18" y="249.4">17.1</text><text class="m" x="16" y="249.4">KJ12_047</text>
<text class="n" x="-18" y="276.8">19.5</text><text class="m" x="16" y="276.8">KJ12_049</text>
<text class="n" x="-18" y="283.2">19.9</text><text class="m" x="16" y="283.2">KJ12_051</text>
<text class="n" x="-18" y="292.9">20.8</text><text class="m" x="16" y="292.9">KJ12_053</text>
<text class="n" x="-18" y="301.1">21.5</text><text class="m" x="16" y="301.1">KJ12_055</text>
<text class="n" x="-18" y="308.2">22.1</text><text class="m" x="16" y="308.2">KJ12_057</text>
<text class="n" x="-18" y="322.3">23.3</text><text class="m" x="16" y="322.3">KJ12_059</text>
<text class="n" x="-18" y="343.7">25.3</text><text class="m" x="16" y="343.7">KJ12_061</text>
<text class="n" x="-18" y="350.2">25.5</text><text class="m" x="16" y="350.2">KJ12_063</text>
<text class="n" x="-18" y="361.1">26.6</text><text class="m" x="16" y="361.1">KJ12_067</text>
<text class="n" x="-18" y="368.1">27.2</text><text class="m" x="16" y="368.1">KJ12_069</text>
</g>

<g id="connectors" class="cn">
<path transform="translate(33 0)" d="M-17 56.7H15M-17 64.8H-13L-6 66.1H6L13 64.8H15M-17 71.2H-13L-6 73.2H6L13 71.2H15M-17 77.6H-13L-6 76.7H6L13 77.6H15M-17 84H-13L-6 82.6H6L13 84H15M-17 90.4H-13L-6 89.6H6L13 90.4H15M-17 97.9H15M-17 107.6H-13L-6 108.4H6L13 107.6H15M-17 114H-13L-6 113.1H6L13 114H15M-17 130.8H15M-17 140.2H15M-17 148.4H15M-17 156.3H-13L-6 159H6L13 156.3H15M-17 162.7H-13L-6 164.8H6L13 162.7H15M-17 169.1H-13L-6 168.4H6L13 169.1H15M-17 175.5H-13L-6 174.2H6L13 175.5H15M-17 181.9H-13L-6 180.1H6L13 181.9H15M-17 188.3H-13L-6 187.2H6L13 188.3H15M-17 224.8H15M-17 252.7H-13L-6 253H6L13 252.7H15M-17 259.1H-13L-6 258.8H6L13 259.1H15M-17 268H-13L-6 269.4H6L13 268H15M-17 274.4H-13L-6 272.9H6L13 274.4H15M-17 283.2H-13L-6 283.5H6L13 283.2H15M-17 289.6H-13L-6 289.4H6L13 289.6H15M-17 300H15M-17 335.2H15M-17 342.3H15M-17 371.6H15M-17 403.4H15M-17 420H-13L-6 423.3H6L13 420H15M-17 426.4H-13L-6 425.7H6L13 426.4H15M-17 432.8H-13L-6 431.6H6L13 432.8H15M-17 439.2H-13L-6 439.8H6L13 439.2H15M-17 445.6H-13L-6 446.8H6L13 445.6H15M-17 452H-13L-6 451.5H6L13 452H15M-17 458.4H-13L-6 458.6H6L13 458.4H15M-17 464.8H-13L-6 462.1H6L13 464.8H15M-17 477.4H15M-17 496.2H15M-17 513.8H15M-17 523.2H15M-17 541.1H-13L-6 542H6L13 541.1H15M-17 547.7H15M-17 553.6H-13L-6 552.6H6L13 553.6H15"/>
<path transform="translate(132 0)" d="M-17 89.6H15M-17 100.2H15M-17 111.7H-13L-6 113.1H6L13 111.7H15M-17 118.1H-13L-6 116.7H6L13 118.1H15M-17 138.7H-13L-6 140.2H6L13 138.7H15M-17 145.1H-13L-6 143.7H6L13 145.1H15M-17 156.5H-13L-6 157.8H6L13 156.5H15M-17 162.9H-13L-6 163.7H6L13 162.9H15M-17 169.3H-13L-6 169.5H6L13 169.3H15M-17 175.7H-13L-6 175.4H6L13 175.7H15M-17 182.1H-13L-6 180.1H6L13 182.1H15M-17 281.5H-13L-6 282.3H6L13 281.5H15M-17 287.9H-13L-6 287H6L13 287.9H15M-17 307H15M-17 313.4H-13L-6 315.2H6L13 313.4H15M-17 319.8H-13L-6 321.1H6L13 319.8H15M-17 326.2H-13L-6 329.3H6L13 326.2H15M-17 332.6H-13L-6 334H6L13 332.6H15M-17 339H-13L-6 339.9H6L13 339H15M-17 345.4H-13L-6 342.3H6L13 345.4H15M-17 351.8H-13L-6 348.1H6L13 351.8H15M-17 358.2H-13L-6 356.4H6L13 358.2H15M-17 374.3H-13L-6 375.2H6L13 374.3H15M-17 380.7H-13L-6 379.9H6L13 380.7H15M-17 394.6H-13L-6 395.1H6L13 394.6H15M-17 401H15M-17 407.4H-13L-6 406.9H6L13 407.4H15M-17 420.7H-13L-6 422.2H6L13 420.7H15M-17 427.1H-13L-6 425.7H6L13 427.1H15M-17 436H-13L-6 437.4H6L13 436H15M-17 442.4H-13L-6 442.1H6L13 442.4H15M-17 448.9H-13L-6 448H6L13 448.9H15M-17 455.3H-13L-6 455.1H6L13 455.3H15M-17 462.1H15"/>
<path transform="translate(232 0)" d="M-17 54.4H15M-17 62.3H-13L-6 62.6H6L13 62.3H15M-17 68.7H-13L-6 68.5H6L13 68.7H15M-17 95.8H-13L-6 97.9H6L13 95.8H15M-17 102.2H-13L-6 100.2H6L13 102.2H15M-17 115.5H15M-17 122.5H15M-17 186.4H-13L-6 189.5H6L13 186.4H15M-17 192.8H-13L-6 193H6L13 192.8H15M-17 199.2H-13L-6 198.9H6L13 199.2H15M-17 205.6H-13L-6 202.4H6L13 205.6H15M-17 245.9H15M-17 253H15M-17 260.6H-13L-6 261.2H6L13 260.6H15M-17 267H-13L-6 268.2H6L13 267H15M-17 273.4H-13L-6 272.9H6L13 273.4H15M-17 279.8H-13L-6 280H6L13 279.8H15M-17 286.2H-13L-6 284.7H6L13 286.2H15M-17 307H15M-17 319.9H15M-17 354H15M-17 380.5H-13L-6 379.9H6L13 380.5H15"/>
<path transform="translate(332 0)" d="M-17 48.5H15M-17 61.3H-13L-6 63.8H6L13 61.3H15M-17 67.7H-13L-6 69.7H6L13 67.7H15M-17 74.1H-13L-6 74.4H6L13 74.1H15M-17 80.5H-13L-6 79.1H6L13 80.5H15M-17 86.9H-13L-6 83.8H6L13 86.9H15M-17 94.1H-13L-6 95.5H6L13 94.1H15M-17 100.5H-13L-6 101.4H6L13 100.5H15M-17 106.9H-13L-6 106.1H6L13 106.9H15M-17 113.3H-13L-6 112H6L13 113.3H15M-17 123.7H15M-17 133.1H15M-17 147.2H15M-17 174.2H15M-17 182.8H-13L-6 184.8H6L13 182.8H15M-17 189.2H-13L-6 187.2H6L13 189.2H15M-17 208.3H15M-17 249.3H-13L-6 251.8H6L13 249.3H15M-17 255.7H-13L-6 254.1H6L13 255.7H15M-17 262.1H-13L-6 261.2H6L13 262.1H15M-17 277.6H15M-17 291.7H15M-17 309.4H15M-17 325H-13L-6 327H6L13 325H15M-17 331.4H-13L-6 334H6L13 331.4H15M-17 337.8H-13L-6 337.6H6L13 337.8H15M-17 344.2H-13L-6 339.9H6L13 344.2H15M-17 355.2H15M-17 390.4H15M-17 419.8H15M-17 432.7H15M-17 448.6H-13L-6 450.4H6L13 448.6H15M-17 455.1H-13L-6 453.9H6L13 455.1H15M-17 461.5H-13L-6 460.9H6L13 461.5H15"/>
<path transform="translate(432 0)" d="M-17 48.5H15M-17 55.6H15M-17 62.6H15M-17 69.5H-13L-6 69.7H6L13 69.5H15M-17 75.9H-13L-6 76.7H6L13 75.9H15M-17 82.3H-13L-6 81.4H6L13 82.3H15M-17 104.9H15M-17 112H15M-17 119H15M-17 126.1H15M-17 135.5H15M-17 144.9H15M-17 197.7H15M-17 235.3H15M-17 247.7H-13L-6 251.8H6L13 247.7H15M-17 254.1H-13L-6 255.3H6L13 254.1H15M-17 260.5H-13L-6 260H6L13 260.5H15M-17 266.9H-13L-6 267.1H6L13 266.9H15M-17 273.3H-13L-6 271.8H6L13 273.3H15M-17 279.7H-13L-6 277.6H6L13 279.7H15M-17 286.1H-13L-6 287H6L13 286.1H15M-17 292.5H-13L-6 292.9H6L13 292.5H15M-17 298.9H-13L-6 296.4H6L13 298.9H15M-17 308.2H15M-17 316.4H15M-17 325.7H-13L-6 327H6L13 325.7H15M-17 332.1H-13L-6 332.9H6L13 332.1H15M-17 338.5H-13L-6 339.9H6L13 338.5H15M-17 344.9H-13L-6 344.6H6L13 344.9H15M-17 351.3H-13L-6 352.8H6L13 351.3H15M-17 357.7H-13L-6 354H6L13 357.7H15M-17 364.2H-13L-6 363.4H6L13 364.2H15M-17 374.3H-13L-6 375.2H6L13 374.3H15M-17 380.7H-13L-6 379.9H6L13 380.7H15M-17 398.7H15"/>
<path transform="translate(532 0)" d="M-17 48.5H15M-17 63.8H15M-17 81.7H-13L-6 82.6H6L13 81.7H15M-17 88.1H-13L-6 88.5H6L13 88.1H15M-17 94.5H-13L-6 93.2H6L13 94.5H15M-17 103.7H15M-17 110.5H-13L-6 113.1H6L13 110.5H15M-17 116.9H-13L-6 117.8H6L13 116.9H15M-17 123.3H-13L-6 122.5H6L13 123.3H15M-17 129.8H-13L-6 128.4H6L13 129.8H15M-17 136.2H-13L-6 139H6L13 136.2H15M-17 142.6H-13L-6 140.2H6L13 142.6H15M-17 149H-13L-6 148.4H6L13 149H15M-17 155.4H-13L-6 154.3H6L13 155.4H15M-17 170.7H15M-17 188.3H15M-17 203.7H-13L-6 206H6L13 203.7H15M-17 210.1H-13L-6 210.7H6L13 210.1H15M-17 216.5H15M-17 222.9H-13L-6 222.4H6L13 222.9H15M-17 229.3H-13L-6 227.1H6L13 229.3H15M-17 238H-13L-6 238.9H6L13 238H15M-17 244.4H-13L-6 243.6H6L13 244.4H15M-17 261.2H15M-17 274.1H15M-17 282.3H15M-17 310.5H15M-17 328.2H15M-17 342.3H15M-17 351.7H15M-17 401H15"/>
<path transform="translate(632 0)" d="M-17 47.1H-13L-6 48.5H6L13 47.1H15M-17 53.5H-13L-6 52H6L13 53.5H15M-17 62.7H-13L-6 63.8H6L13 62.7H15M-17 69.1H-13L-6 69.7H6L13 69.1H15M-17 75.5H15M-17 81.9H-13L-6 80.2H6L13 81.9H15M-17 91.7H-13L-6 92H6L13 91.7H15M-17 98.1H-13L-6 97.9H6L13 98.1H15M-17 104.9H15M-17 127.2H15M-17 134.3H15M-17 142.5H15M-17 155.4H15M-17 177.8H15M-17 226.2H-13L-6 228.3H6L13 226.2H15M-17 232.6H-13L-6 233H6L13 232.6H15M-17 239H-13L-6 236.5H6L13 239H15M-17 245.4H-13L-6 245.9H6L13 245.4H15M-17 251.8H15M-17 258.2H-13L-6 257.7H6L13 258.2H15M-17 267.4H-13L-6 268.2H6L13 267.4H15M-17 273.8H-13L-6 272.9H6L13 273.8H15M-17 284.7H15M-17 291.7H15M-17 300H15M-17 311.7H15M-17 323.7H-13L-6 324.6H6L13 323.7H15M-17 330.1H-13L-6 331.7H6L13 330.1H15M-17 336.5H-13L-6 338.7H6L13 336.5H15M-17 342.9H-13L-6 342.3H6L13 342.9H15M-17 349.3H-13L-6 348.1H6L13 349.3H15M-17 355.7H-13L-6 352.8H6L13 355.7H15M-17 378.7H15M-17 395.1H15"/>
<path transform="translate(732 0)" d="M-17 55.6H15M-17 62.7H-13L-6 63.8H6L13 62.7H15M-17 69.1H-13L-6 73.2H6L13 69.1H15M-17 75.5H-13L-6 77.9H6L13 75.5H15M-17 81.9H-13L-6 82.6H6L13 81.9H15M-17 88.3H-13L-6 87.3H6L13 88.3H15M-17 94.7H-13L-6 92H6L13 94.7H15M-17 101.1H-13L-6 96.7H6L13 101.1H15M-17 110H-13L-6 112H6L13 110H15M-17 116.4H-13L-6 116.7H6L13 116.4H15M-17 122.7H-13L-6 121.4H6L13 122.7H15M-17 129.1H-13L-6 130.8H6L13 129.1H15M-17 135.4H-13L-6 135.5H6L13 135.4H15M-17 141.8H-13L-6 141.3H6L13 141.8H15M-17 148.1H-13L-6 146H6L13 148.1H15M-17 154.5H-13L-6 151.9H6L13 154.5H15M-17 160.8H-13L-6 157.8H6L13 160.8H15M-17 167.2H-13L-6 162.5H6L13 167.2H15M-17 173.5H-13L-6 168.4H6L13 173.5H15M-17 179.9H-13L-6 171.9H6L13 179.9H15M-17 186.2H-13L-6 184.8H6L13 186.2H15M-17 192.6H-13L-6 190.7H6L13 192.6H15M-17 198.9H-13L-6 195.4H6L13 198.9H15M-17 205.3H-13L-6 200.1H6L13 205.3H15M-17 211.6H-13L-6 207.1H6L13 211.6H15M-17 218H-13L-6 213H6L13 218H15M-17 224.3H-13L-6 217.7H6L13 224.3H15M-17 230.7H-13L-6 227.1H6L13 230.7H15M-17 242.4H15M-17 251.8H15M-17 258.8H15M-17 265.9H15M-17 274.2H-13L-6 276.5H6L13 274.2H15M-17 280.6H-13L-6 281.2H6L13 280.6H15M-17 287H15M-17 293.4H-13L-6 290.6H6L13 293.4H15M-17 356.4H15M-17 364.9H-13L-6 365.8H6L13 364.9H15M-17 371.3H-13L-6 370.5H6L13 371.3H15"/>
<path transform="translate(832 0)" d="M-17 50.9H15M-17 57.4H-13L-6 57.9H6L13 57.4H15M-17 63.8H-13L-6 65H6L13 63.8H15M-17 70.2H-13L-6 68.5H6L13 70.2H15M-17 77.9H15M-17 89.9H-13L-6 90.8H6L13 89.9H15M-17 96.4H-13L-6 95.5H6L13 96.4H15M-17 103.7H15M-17 110.8H15M-17 123.7H15M-17 131.3H-13L-6 133.1H6L13 131.3H15M-17 137.7H-13L-6 137.8H6L13 137.7H15M-17 144.1H-13L-6 143.7H6L13 144.1H15M-17 150.5H-13L-6 150.7H6L13 150.5H15M-17 157H-13L-6 155.4H6L13 157H15M-17 167.2H15M-17 180.2H-13L-6 182.5H6L13 180.2H15M-17 186.6H-13L-6 187.2H6L13 186.6H15M-17 193H-13L-6 191.9H6L13 193H15M-17 199.4H-13L-6 197.7H6L13 199.4H15M-17 208.3H15M-17 220.3H-13L-6 222.4H6L13 220.3H15M-17 226.7H-13L-6 227.1H6L13 226.7H15M-17 233.1H-13L-6 234.2H6L13 233.1H15M-17 239.5H-13L-6 240H6L13 239.5H15M-17 245.9H-13L-6 248.3H6L13 245.9H15M-17 252.3H-13L-6 256.5H6L13 252.3H15M-17 258.7H-13L-6 262.4H6L13 258.7H15M-17 265.1H-13L-6 265.9H6L13 265.1H15M-17 271.5H-13L-6 269.4H6L13 271.5H15M-17 277.9H-13L-6 275.3H6L13 277.9H15M-17 284.3H-13L-6 284.7H6L13 284.3H15M-17 290.7H-13L-6 289.4H6L13 290.7H15M-17 297.1H-13L-6 295.3H6L13 297.1H15M-17 303.6H-13L-6 302.3H6L13 303.6H15M-17 310H-13L-6 309.4H6L13 310H15M-17 316.4H-13L-6 311.7H6L13 316.4H15"/>
<path transform="translate(932 0)" d="M-17 60.3H15M-17 68.1H-13L-6 69.7H6L13 68.1H15M-17 74.5H-13L-6 74.4H6L13 74.5H15M-17 80.9H-13L-6 81.4H6L13 80.9H15M-17 87.3H-13L-6 86.1H6L13 87.3H15M-17 93.7H-13L-6 93.2H6L13 93.7H15M-17 160.1H15M-17 215.4H15M-17 225.9H15M-17 238.9H15M-17 246.6H-13L-6 249.4H6L13 246.6H15M-17 253H-13L-6 254.1H6L13 253H15M-17 259.4H-13L-6 257.7H6L13 259.4H15M-17 265.8H-13L-6 262.4H6L13 265.8H15M-17 273.7H-13L-6 277.6H6L13 273.7H15M-17 280.1H-13L-6 282.3H6L13 280.1H15M-17 286.5H-13L-6 288.2H6L13 286.5H15M-17 292.9H-13L-6 295.3H6L13 292.9H15M-17 299.3H-13L-6 300H6L13 299.3H15M-17 305.7H-13L-6 304.7H6L13 305.7H15M-17 312.1H-13L-6 308.2H6L13 312.1H15M-17 318.5H-13L-6 312.9H6L13 318.5H15"/>
<path transform="translate(1032 0)" d="M-17 51.2H-13L-6 52H6L13 51.2H15M-17 57.6H-13L-6 56.7H6L13 57.6H15M-17 76.4H-13L-6 77.9H6L13 76.4H15M-17 82.8H-13L-6 81.4H6L13 82.8H15M-17 94.3H15M-17 101.7H-13L-6 102.6H6L13 101.7H15M-17 108.1H-13L-6 107.3H6L13 108.1H15M-17 117.6H-13L-6 117.8H6L13 117.6H15M-17 124H-13L-6 123.7H6L13 124H15M-17 132.6H-13L-6 134.3H6L13 132.6H15M-17 139H15M-17 145.4H-13L-6 143.7H6L13 145.4H15M-17 160.5H-13L-6 162.5H6L13 160.5H15M-17 166.9H-13L-6 169.5H6L13 166.9H15M-17 173.3H-13L-6 174.2H6L13 173.3H15M-17 179.7H-13L-6 178.9H6L13 179.7H15M-17 186.1H-13L-6 184.8H6L13 186.1H15M-17 192.5H-13L-6 195.4H6L13 192.5H15M-17 198.9H-13L-6 201.3H6L13 198.9H15M-17 205.3H-13L-6 206H6L13 205.3H15M-17 211.7H-13L-6 210.7H6L13 211.7H15M-17 218.1H-13L-6 215.4H6L13 218.1H15M-17 224.5H-13L-6 220.1H6L13 224.5H15M-17 230.9H-13L-6 231.8H6L13 230.9H15M-17 237.4H-13L-6 235.3H6L13 237.4H15M-17 253.6H-13L-6 255.3H6L13 253.6H15M-17 260H-13L-6 261.2H6L13 260H15M-17 266.4H-13L-6 265.9H6L13 266.4H15M-17 272.8H-13L-6 270.6H6L13 272.8H15M-17 283H-13L-6 284.7H6L13 283H15M-17 289.4H15M-17 295.8H-13L-6 294.1H6L13 295.8H15M-17 308.3H-13L-6 310.5H6L13 308.3H15M-17 314.7H-13L-6 315.2H6L13 314.7H15M-17 321.1H-13L-6 319.9H6L13 321.1H15M-17 327.5H-13L-6 325.8H6L13 327.5H15M-17 348.1H15M-17 364.8H-13L-6 365.8H6L13 364.8H15M-17 371.2H-13L-6 372.8H6L13 371.2H15M-17 377.6H-13L-6 375.2H6L13 377.6H15"/>
<path transform="translate(1132 0)" d="M-17 53.2H15M-17 61.4H15M-17 85.8H-13L-6 88.5H6L13 85.8H15M-17 92.2H-13L-6 93.2H6L13 92.2H15M-17 98.6H-13L-6 97.9H6L13 98.6H15M-17 105H15M-17 111.4H-13L-6 110.8H6L13 111.4H15M-17 117.8H-13L-6 115.5H6L13 117.8H15M-17 128.4H15M-17 135.5H15M-17 154H-13L-6 154.3H6L13 154H15M-17 160.4H-13L-6 160.1H6L13 160.4H15M-17 177.8H15M-17 189.5H15M-17 200.1H15M-17 210.7H-13L-6 213H6L13 210.7H15M-17 217.1H-13L-6 217.7H6L13 217.1H15M-17 223.5H-13L-6 224.8H6L13 223.5H15M-17 229.9H-13L-6 228.3H6L13 229.9H15M-17 236.3H-13L-6 234.2H6L13 236.3H15M-17 242.7H-13L-6 242.4H6L13 242.7H15M-17 249.4H15M-17 276.8H-13L-6 277.6H6L13 276.8H15M-17 283.2H-13L-6 282.3H6L13 283.2H15M-17 292.9H15M-17 301.1H15M-17 308.2H15M-17 322.3H15M-17 343.7H-13L-6 345.8H6L13 343.7H15M-17 350.2H-13L-6 348.1H6L13 350.2H15M-17 361.1H15M-17 368.1H15"/>
</g>
</svg>
